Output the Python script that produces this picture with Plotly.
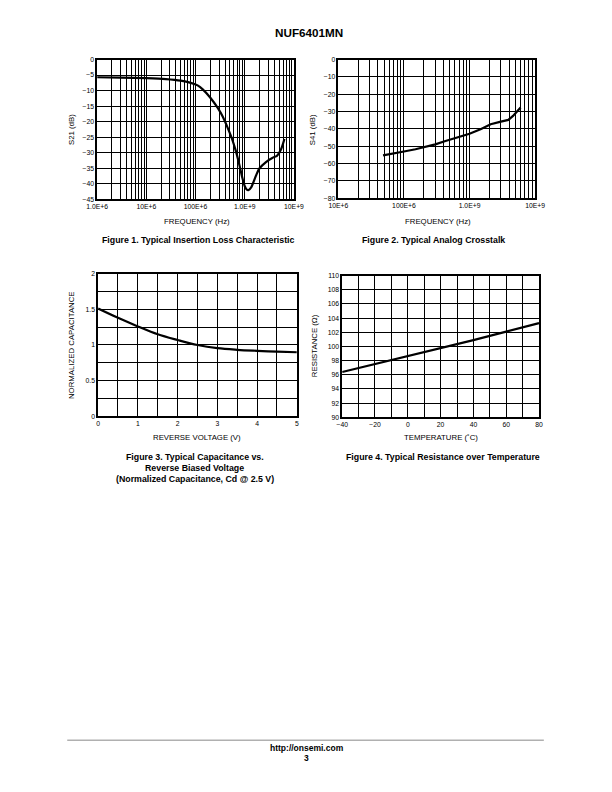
import plotly.graph_objects as go

# page is 612x792; browser body margin is 8px, so the figure is 596x776 placed at (8,8)
PAGE_W, PAGE_H = 612, 792
OFF = 8
W, H = PAGE_W - 2 * OFF, PAGE_H - 2 * OFF

# ---------------- data ----------------
# Figure 1: insertion loss S21 (dB) vs frequency (Hz)
f1_freq = [1e6, 3e6, 1e7, 2.5e7, 5e7, 8e7, 1.1e8, 1.4e8, 2e8, 2.8e8, 3.6e8, 4.5e8, 5.5e8,
           6.6e8, 7.8e8, 8.9e8, 1.0e9, 1.1e9, 1.2e9, 1.35e9, 1.5e9, 1.75e9, 2.0e9, 2.7e9,
           3.7e9, 4.5e9, 5.5e9, 6.4e9]
f1_s21 = [-5.7, -5.8, -6.0, -6.3, -6.8, -7.5, -8.3, -9.6, -12.3, -15.5, -18.5, -22.0, -25.5,
          -29.5, -34.0, -38.0, -40.8, -41.9, -42.0, -41.2, -39.5, -36.8, -35.0, -33.0,
          -31.6, -31.0, -28.8, -25.6]

# Figure 2: crosstalk S41 (dB) vs frequency (Hz)
f2_freq = [4.8e7, 7e7, 1e8, 1.5e8, 2.2e8, 3e8, 4.3e8, 6.5e8, 1e9, 1.5e9, 2.1e9, 3e9, 3.9e9,
           4.6e9, 5.3e9, 6e9]
f2_s41 = [-55.2, -54.2, -53.0, -51.7, -50.3, -48.9, -47.0, -45.0, -42.8, -40.0, -37.3,
          -35.8, -34.8, -32.5, -29.8, -27.6]

# Figure 3: normalized capacitance vs reverse voltage (V)
f3_volt = [0, 0.5, 1.0, 1.5, 2.0, 2.5, 3.0, 3.5, 4.0, 4.5, 5.0]
f3_cap = [1.51, 1.38, 1.26, 1.15, 1.07, 1.00, 0.955, 0.932, 0.918, 0.907, 0.898]

# Figure 4: resistance (ohm) vs temperature (C)
f4_temp = [-40, -20, 0, 20, 40, 60, 80]
f4_res = [96.4, 97.5, 98.6, 99.8, 100.9, 102.1, 103.3]

# tick labels
f1_decades = [1e6, 1e7, 1e8, 1e9, 1e10]
f1_decade_labels = ["1.0E+6", "10E+6", "100E+6", "1.0E+9", "10E+9"]
f2_decades = [1e7, 1e8, 1e9, 1e10]
f2_decade_labels = ["10E+6", "100E+6", "1.0E+9", "10E+9"]

FONT = "Liberation Sans, Arial, sans-serif"


def px(x):
    return (x - OFF) / W


def py(y):
    return 1 - (y - OFF) / H


def log_ticks(decades, labels):
    vals, txt = [], []
    for i, d in enumerate(decades):
        vals.append(d)
        txt.append(labels[i])
        if i < len(decades) - 1:
            for k in range(2, 10):
                vals.append(d * k)
                txt.append("")
    return vals, txt


fig = go.Figure()
line = dict(color="black", width=2.2)
fig.add_trace(go.Scatter(x=f1_freq, y=f1_s21, mode="lines", line=dict(line, shape="spline", smoothing=0.6),
                         xaxis="x", yaxis="y", showlegend=False))
fig.add_trace(go.Scatter(x=f2_freq, y=f2_s41, mode="lines", line=line,
                         xaxis="x2", yaxis="y2", showlegend=False))
fig.add_trace(go.Scatter(x=f3_volt, y=f3_cap, mode="lines", line=dict(line, shape="spline"),
                         xaxis="x3", yaxis="y3", showlegend=False))
fig.add_trace(go.Scatter(x=f4_temp, y=f4_res, mode="lines", line=line,
                         xaxis="x4", yaxis="y4", showlegend=False))

tickfont = dict(family=FONT, size=6.8, color="black")
common = dict(showgrid=True, gridcolor="black", gridwidth=1, showline=True, linecolor="black",
              linewidth=1.5, mirror=True, ticks="", tickfont=tickfont, zeroline=False, fixedrange=True)

v1, t1 = log_ticks(f1_decades, f1_decade_labels)
v2, t2 = log_ticks(f2_decades, f2_decade_labels)

fig.update_layout(
    width=W, height=H, margin=dict(l=0, r=0, t=0, b=0), paper_bgcolor="white", plot_bgcolor="white",
    xaxis=dict(common, type="log", domain=[px(89), px(293)], range=[6, 10], tickvals=v1, ticktext=t1,
               anchor="y"),
    yaxis=dict(common, domain=[py(197), py(56)], range=[-45, 0], tickvals=list(range(-45, 1, 5)),
               anchor="x"),
    xaxis2=dict(common, type="log", domain=[px(339), px(543)], range=[7, 10], tickvals=v2, ticktext=t2,
                anchor="y2"),
    yaxis2=dict(common, domain=[py(196), py(56)], range=[-80, 0], tickvals=list(range(-80, 1, 10)),
                anchor="x2"),
    xaxis3=dict(common, domain=[px(90), px(296)], range=[0, 5],
                tickvals=[i * 0.5 for i in range(11)],
                ticktext=[str(i // 2) if i % 2 == 0 else "" for i in range(11)], anchor="y3"),
    yaxis3=dict(common, domain=[py(416), py(272)], range=[0, 2],
                tickvals=[i * 0.25 for i in range(9)],
                ticktext=["0", "", "0.5", "", "1", "", "1.5", "", "2"], anchor="x3"),
    xaxis4=dict(common, domain=[px(343), px(547)], range=[-40, 80],
                tickvals=list(range(-40, 81, 10)),
                ticktext=[("\u2212" + str(-v) if v < 0 else str(v)) if v % 20 == 0 else ""
                          for v in range(-40, 81, 10)], anchor="y4"),
    yaxis4=dict(common, domain=[py(417), py(274)], range=[90, 110], tickvals=list(range(90, 111, 2)),
                anchor="x4"),
)

ann = []


def text(x, y, s, size=7.8, bold=False, angle=0, xanchor="center"):
    ann.append(dict(x=px(x), y=py(y), xref="paper", yref="paper", text=("<b>%s</b>" % s) if bold else s,
                    showarrow=False, textangle=angle, xanchor=xanchor, yanchor="middle",
                    font=dict(family=FONT, size=size, color="black")))


CAP = 8.8
text(309, 29, "NUF6401MN", size=11.7, bold=True)
# Figure 1
text(192, 219, "FREQUENCY (Hz)")
text(63, 127, "S21 (dB)", angle=-90)
text(194, 238, "Figure 1. Typical Insertion Loss Characteristic", size=CAP, bold=True)
# Figure 2
text(442, 219, "FREQUENCY (Hz)")
text(313, 127, "S41 (dB)", angle=-90)
text(438, 238, "Figure 2. Typical Analog Crosstalk", size=CAP, bold=True)
# Figure 3
text(193, 437, "REVERSE VOLTAGE (V)")
text(63, 344, "NORMALIZED CAPACITANCE", angle=-90)
text(190, 457, "Figure 3. Typical Capacitance vs.", size=CAP, bold=True)
text(190, 468, "Reverse Biased Voltage", size=CAP, bold=True)
text(190, 479, "(Normalized Capacitance, Cd @ 2.5 V)", size=CAP, bold=True)
# Figure 4
text(445, 437, "TEMPERATURE (\u02daC)")
text(315, 345, "RESISTANCE (\u03a9)", angle=-90)
text(447, 457, "Figure 4. Typical Resistance over Temperature", size=CAP, bold=True)
# footer
text(307, 751, "http://onsemi.com", size=8.5, bold=True)
text(306, 761, "3", size=8.5, bold=True)

fig.update_layout(annotations=ann)
fig.add_shape(type="line", xref="paper", yref="paper", x0=px(58), x1=px(552), y0=py(743), y1=py(743),
              line=dict(color="#b0b0b0", width=1.5))

fig.write_html("out.html")
